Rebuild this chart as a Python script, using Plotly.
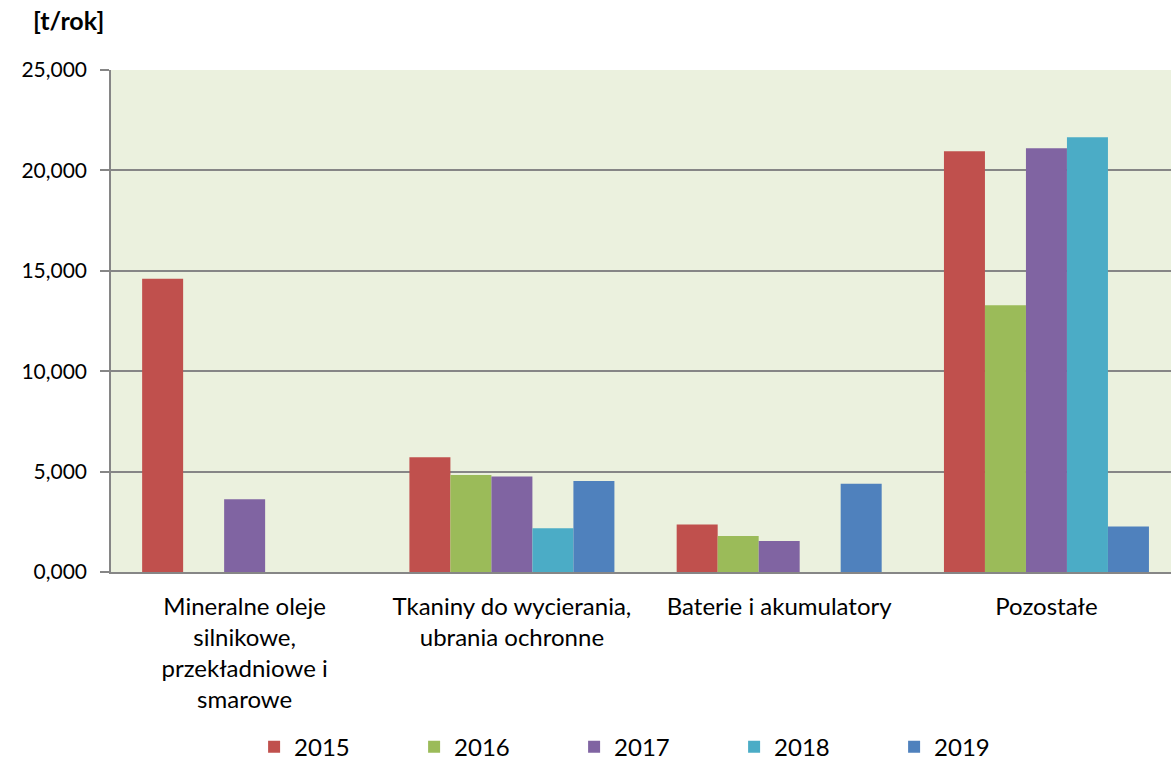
import plotly.graph_objects as go

categories = [
    "Mineralne oleje<br>silnikowe,<br>przekładniowe i<br>smarowe",
    "Tkaniny do wycierania,<br>ubrania ochronne",
    "Baterie i akumulatory",
    "Pozostałe",
]
years = ["2015", "2016", "2017", "2018", "2019"]
values_2015 = [14600, 5710, 2370, 20950]
values_2016 = [None, 4830, 1790, 13280]
values_2017 = [3620, 4750, 1540, 21100]
values_2018 = [None, 2180, None, 21650]
values_2019 = [None, 4530, 4400, 2260]
series = [values_2015, values_2016, values_2017, values_2018, values_2019]
colors = ["#C0504D", "#9BBB59", "#8064A2", "#4BACC6", "#4F81BD"]
y_ticks = [0, 5000, 10000, 15000, 20000, 25000]
y_tick_text = ["0,000", "5,000", "10,000", "15,000", "20,000", "25,000"]

FONT = "Lato, 'Open Sans', sans-serif"
GRID = "#868686"

fig = go.Figure()
for name, vals, col in zip(years, series, colors):
    fig.add_trace(go.Bar(
        x=list(range(len(categories))), y=vals, name=name,
        marker=dict(color=col, line=dict(width=0)),
    ))

fig.update_layout(
    width=1171, height=760,
    margin=dict(l=111, r=0, t=70, b=188, pad=0, autoexpand=False),
    paper_bgcolor="white", plot_bgcolor="#EBF1DE",
    barmode="group", bargap=0.233, bargroupgap=0,
    font=dict(family=FONT, size=21, color="black"),
    showlegend=True,
    legend=dict(
        orientation="h", x=0.135, xanchor="left", y=-0.349, yanchor="middle",
        font=dict(family=FONT, size=24, color="black"),
        entrywidth=115, entrywidthmode="pixels",
        bgcolor="rgba(0,0,0,0)", traceorder="normal",
    ),
    annotations=[dict(
        text="<b>[t/rok]</b>", xref="paper", yref="paper",
        x=-0.0755, y=1.0996, xanchor="left", yanchor="middle",
        showarrow=False, font=dict(family=FONT, size=25, color="black"),
    )],
)
fig.update_xaxes(
    tickmode="array", tickvals=list(range(len(categories))), ticktext=categories,
    range=[-0.5, 3.466], showline=True, linecolor=GRID, linewidth=1.5,
    ticks="", showgrid=False, zeroline=False, automargin=False,
    ticklabelstandoff=12,
    tickfont=dict(family=FONT, size=24, color="black"),
)
fig.update_yaxes(
    range=[0, 25000], tickmode="array", tickvals=y_ticks, ticktext=y_tick_text,
    showline=True, linecolor=GRID, linewidth=1.5,
    ticks="outside", ticklen=9, tickcolor=GRID, tickwidth=1.5,
    showgrid=True, gridcolor=GRID, gridwidth=1.5, zeroline=False,
    ticklabelstandoff=9, automargin=False,
    tickfont=dict(family=FONT, size=21, color="black"),
)

fig.write_html(
    "out.html",
    config={"displayModeBar": False},
    post_script="document.body.style.margin='0';document.body.style.overflow='hidden';",
)
